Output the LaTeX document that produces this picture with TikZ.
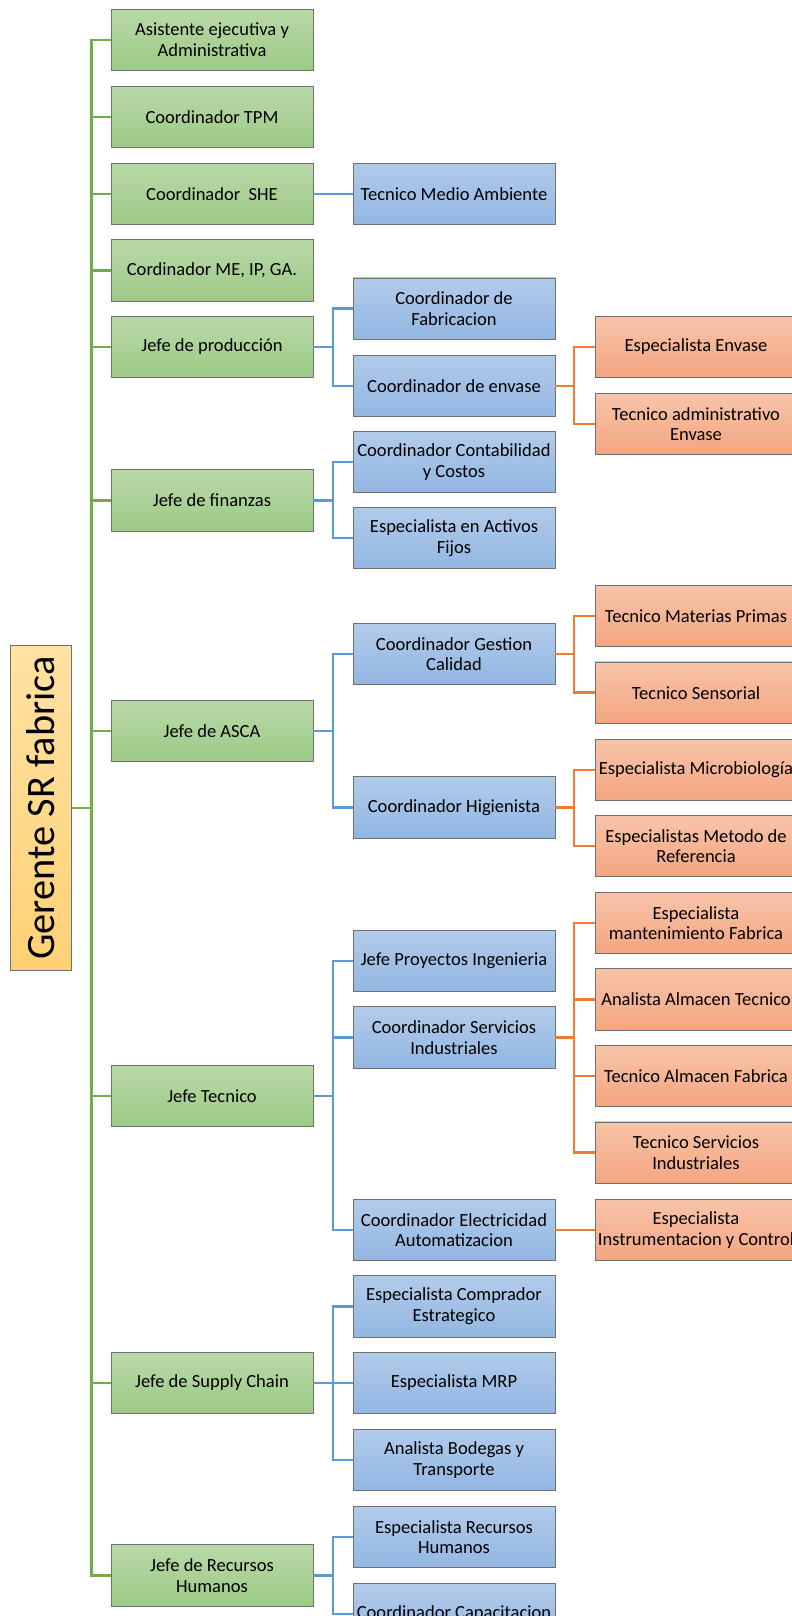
\documentclass[tikz,border=0pt]{standalone}
\usepackage{fontspec}
\setmainfont{Carlito}
\definecolor{gtop}{RGB}{185,217,168}
\definecolor{gbot}{RGB}{157,201,134}
\definecolor{btop}{RGB}{178,203,234}
\definecolor{bbot}{RGB}{146,182,226}
\definecolor{otop}{RGB}{248,196,170}
\definecolor{obot}{RGB}{244,165,128}
\definecolor{ytop}{RGB}{255,226,163}
\definecolor{ybot}{RGB}{255,209,118}
\definecolor{bordc}{RGB}{112,112,112}
\definecolor{gline}{RGB}{112,173,71}
\definecolor{bline}{RGB}{91,155,213}
\definecolor{oline}{RGB}{237,125,49}
\tikzset{
  box/.style={rectangle, minimum width=202bp, minimum height=61.5bp, draw=bordc, line width=0.8bp, align=center, inner sep=0pt, font=\fontsize{18.6}{20.8}\selectfont},
  gbox/.style={box, top color=gtop, bottom color=gbot},
  bbox/.style={box, top color=btop, bottom color=bbot},
  obox/.style={box, top color=otop, bottom color=obot},
  gconn/.style={draw=gline, line width=2.6bp},
  bconn/.style={draw=bline, line width=2.6bp},
  oconn/.style={draw=oline, line width=2.6bp},
}
\begin{document}
\begin{tikzpicture}[x=1bp, y=-1bp]
\useasboundingbox (0,0) rectangle (792,1616);
\clip (0,0) rectangle (792,1616);
% top manager
\node[rectangle, draw=bordc, line width=0.8bp, top color=ytop, bottom color=ybot, minimum width=61.7bp, minimum height=324.5bp, inner sep=0pt] (ger) at (41,808) {};
\node[rotate=90, font=\fontsize{40.5}{44}\selectfont, inner sep=0pt] (gertext) at (ger.center) {Gerente SR fabrica};
% level 1
\node[gbox] (asis) at (212,40) {Asistente ejecutiva y\\Administrativa};
\node[gbox] (tpm) at (212,117) {Coordinador TPM};
\node[gbox] (she) at (212,194) {Coordinador \ SHE};
\node[gbox] (me) at (212,270.5) {Cordinador ME, IP, GA.};
\node[gbox] (prod) at (212,347) {Jefe de producción};
\node[gbox] (fin) at (212,500.5) {Jefe de finanzas};
\node[gbox] (asca) at (212,731) {Jefe de ASCA};
\node[gbox] (tec) at (212,1096) {Jefe Tecnico};
\node[gbox] (sup) at (212,1383) {Jefe de Supply Chain};
\node[gbox] (rrhh) at (212,1575.5) {Jefe de Recursos\\Humanos};
% level 2
\node[bbox] (tma) at (454,194) {Tecnico Medio Ambiente};
\node[bbox] (cfab) at (454,308.7) {Coordinador de\\Fabricacion};
\node[bbox] (cenv) at (454,386) {Coordinador de envase};
\node[bbox] (ccont) at (454,462) {Coordinador Contabilidad\\y Costos};
\node[bbox] (eact) at (454,538) {Especialista en Activos\\Fijos};
\node[bbox] (cgc) at (454,654) {Coordinador Gestion\\Calidad};
\node[bbox] (chig) at (454,807.5) {Coordinador Higienista};
\node[bbox] (jpi) at (454,961) {Jefe Proyectos Ingenieria};
\node[bbox] (csi) at (454,1037.5) {Coordinador Servicios\\Industriales};
\node[bbox] (cea) at (454,1230) {Coordinador Electricidad\\Automatizacion};
\node[bbox] (ece) at (454,1306.5) {Especialista Comprador\\Estrategico};
\node[bbox] (emrp) at (454,1383) {Especialista MRP};
\node[bbox] (abt) at (454,1460) {Analista Bodegas y\\Transporte};
\node[bbox] (erh) at (454,1537) {Especialista Recursos\\Humanos};
\node[bbox] (ccap) at (454,1614) {Coordinador Capacitacion};
% level 3
\node[obox] (eenv) at (696,347) {Especialista Envase};
\node[obox] (tae) at (696,424) {Tecnico administrativo\\Envase};
\node[obox] (tmp) at (696,616) {Tecnico Materias Primas};
\node[obox] (tsen) at (696,692.7) {Tecnico Sensorial};
\node[obox] (emic) at (696,770) {Especialista Microbiología};
\node[obox] (emr) at (696,846) {Especialistas Metodo de\\Referencia};
\node[obox] (emf) at (696,923) {Especialista\\mantenimiento Fabrica};
\node[obox] (aat) at (696,999.5) {Analista Almacen Tecnico};
\node[obox] (taf) at (696,1076) {Tecnico Almacen Fabrica};
\node[obox] (tsi) at (696,1152.7) {Tecnico Servicios\\Industriales};
\node[obox] (eic) at (696,1230) {Especialista\\Instrumentacion y Control};
% green connectors
\foreach \n in {asis,tpm,she,me,prod,fin,asca,tec,sup,rrhh}
  \draw[gconn] (ger.east) -- ++(19,0) |- (\n.west);
% blue connectors
\draw[bconn] (she.east) -- (tma.west);
\foreach \p/\c in {prod/cfab,prod/cenv,fin/ccont,fin/eact,asca/cgc,asca/chig,tec/jpi,tec/csi,tec/cea,sup/ece,sup/emrp,sup/abt,rrhh/erh,rrhh/ccap}
  \draw[bconn] (\p.east) -- ++(19.5,0) |- (\c.west);
% orange connectors
\foreach \p/\c in {cenv/eenv,cenv/tae,cgc/tmp,cgc/tsen,chig/emic,chig/emr,csi/emf,csi/aat,csi/taf,csi/tsi}
  \draw[oconn] (\p.east) -- ++(18.5,0) |- (\c.west);
\draw[oconn] (cea.east) -- (eic.west);
\end{tikzpicture}
\end{document}
